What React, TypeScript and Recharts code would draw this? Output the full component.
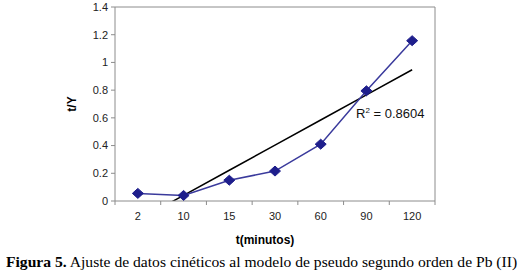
import * as React from "react";
import { LineChart, Line, XAxis, YAxis, CartesianGrid } from "recharts";

const tiempos = ["2", "10", "15", "30", "60", "90", "120"];
const tY = [0.055, 0.04, 0.15, 0.216, 0.41, 0.795, 1.157];
const yTicks = [0, 0.2, 0.4, 0.6, 0.8, 1, 1.2, 1.4];
const r2Text = "0.8604";

// least squares line over category index (like the spreadsheet trendline)
function linearFit(ys: number[]) {
  const n = ys.length;
  const xs = ys.map((_, i) => i + 1);
  const mx = xs.reduce((a, b) => a + b, 0) / n;
  const my = ys.reduce((a, b) => a + b, 0) / n;
  let num = 0, den = 0;
  xs.forEach((x, i) => { num += (x - mx) * (ys[i] - my); den += (x - mx) * (x - mx); });
  const slope = num / den;
  return xs.map((x) => my + slope * (x - mx));
}

const trend = linearFit(tY);
const data = tiempos.map((t, i) => ({ t, y: tY[i], trend: trend[i] }));

const font = "'Liberation Sans', Arial, sans-serif";
const grey = "#8c8c8c";

function Diamond(props: any) {
  const { cx, cy } = props;
  if (cx == null || cy == null) return null;
  return <polygon points={`${cx},${cy - 5} ${cx + 5.5},${cy} ${cx},${cy + 5} ${cx - 5.5},${cy}`} fill="#1e1e8c" stroke="#1e1e8c" />;
}

function XTick(props: any) {
  const { x, y, payload, index } = props;
  const off = payload?.offset || 22.86;
  return (
    <g>
      <line x1={x - off} y1={y - 8} x2={x - off} y2={y - 4} stroke={grey} />
      {index === tiempos.length - 1 ? <line x1={x + off} y1={y - 8} x2={x + off} y2={y - 4} stroke={grey} /> : null}
      <text x={x} y={y + 11} textAnchor="middle" fontSize={11} fill="#222" fontFamily={font}>{payload.value}</text>
    </g>
  );
}

export default function App() {
  return (
    <div style={{ position: "absolute", left: 0, top: 0, width: 521, height: 278, background: "#fff", overflow: "hidden" }}>
      <LineChart width={521} height={278} data={data} margin={{ top: 7, right: 86, left: 0, bottom: 0 }}>
        <CartesianGrid
          stroke={grey}
          strokeDasharray=""
          horizontalCoordinatesGenerator={({ offset }: any) => [offset.top]}
          verticalCoordinatesGenerator={({ offset }: any) => [offset.left + offset.width]}
        />
        <XAxis dataKey="t" scale="band" height={77} tickLine={false} axisLine={{ stroke: grey }} tick={<XTick />} interval={0} />
        <YAxis
          domain={[0, 1.4]}
          ticks={yTicks}
          allowDataOverflow
          width={115}
          tickSize={4}
          tickMargin={3}
          tickLine={{ stroke: grey }}
          axisLine={{ stroke: grey }}
          tick={{ fontSize: 11, fill: "#222", fontFamily: font }}
        />
        <Line dataKey="trend" stroke="#000" strokeWidth={1.5} dot={false} activeDot={false} isAnimationActive={false} />
        <Line dataKey="y" stroke="#3a3a9c" strokeWidth={1.5} dot={<Diamond />} activeDot={false} isAnimationActive={false} />
      </LineChart>
      <div style={{ position: "absolute", left: 356, top: 106, fontFamily: font, fontSize: 13, color: "#111", whiteSpace: "nowrap" }}>
        R<sup style={{ fontSize: 8 }}>2</sup> = {r2Text}
      </div>
      <div style={{ position: "absolute", left: 55, top: 97, width: 34, textAlign: "center", transform: "rotate(-90deg)", fontFamily: font, fontSize: 12, fontWeight: "bold", color: "#000" }}>
        t/Y
      </div>
      <div style={{ position: "absolute", left: 215, top: 233, width: 100, textAlign: "center", fontFamily: font, fontSize: 12, fontWeight: "bold", color: "#000" }}>
        t(minutos)
      </div>
      <div style={{ position: "absolute", left: 6, top: 254, whiteSpace: "nowrap", fontFamily: "'Liberation Serif', 'Times New Roman', serif", fontSize: 14.8, color: "#000", transform: "scaleX(1.055)", transformOrigin: "left center" }}>
        <b>Figura 5.</b> Ajuste de datos cinéticos al modelo de pseudo segundo orden de Pb (II)
      </div>
    </div>
  );
}
